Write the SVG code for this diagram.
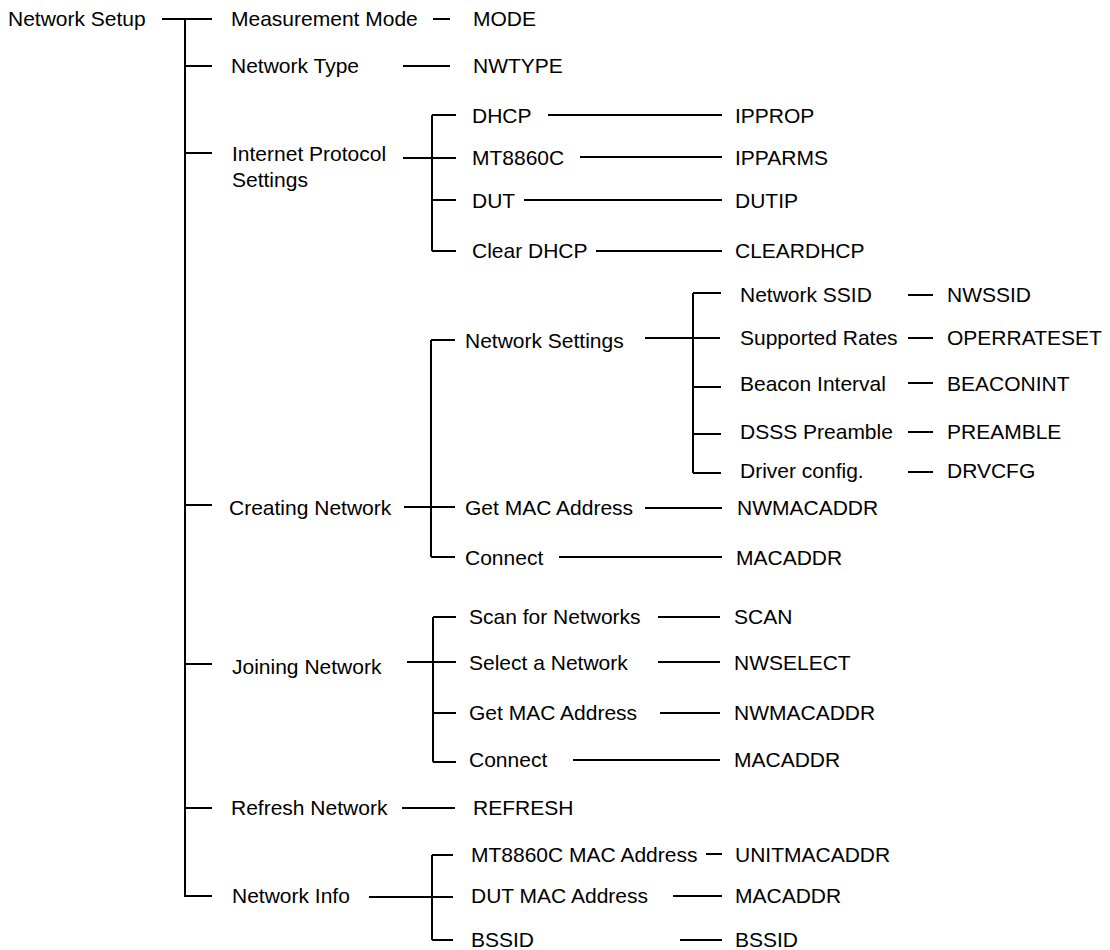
<svg xmlns="http://www.w3.org/2000/svg" width="1110" height="950" viewBox="0 0 1110 950">
<style>
text{font-family:"Liberation Sans",Arial,sans-serif;font-size:21px;fill:#000}
.c path{stroke:#000;stroke-width:2;fill:none}
</style>
<rect width="1110" height="950" fill="#fff"/>
<g class="c" id="connectors">
<path d="M162 19H212M185 19V897M185 66H212M185 153H212M185 505H212M185 664H212M185 808H212M185 896H212"/>
<path d="M433 19H450M403 66H450M402 808H455"/>
<path d="M403 158H456M432 115V251M432 115H456M432 200H456M432 251H456"/>
<path d="M548 115H722M580 157H722M524 200H722M596 251H722"/>
<path d="M404 507H455M431 340V557M431 340H455M431 557H455"/>
<path d="M645 338H720M693 293V473M693 293H721M693 387H721M693 434H721M693 473H721"/>
<path d="M908 295H933M908 338H933M908 383H933M908 432H933M908 472H933"/>
<path d="M645 508H722M559 557H722"/>
<path d="M407 662H456M433 617V762M433 617H456M433 713H456M433 762H456"/>
<path d="M658 617H720M658 662H720M660 713H720M573 760H720"/>
<path d="M369 897H453M432 855V940M432 855H453M432 940H453"/>
<path d="M706 854H722M673 896H722M680 940H722"/>
</g>
<g id="n-root"><text x="8" y="26">Network Setup</text></g>
<g id="n-mode"><text x="231" y="26">Measurement Mode</text></g>
<g id="n-mode-cmd"><text x="473" y="26">MODE</text></g>
<g id="n-nwtype"><text x="231" y="73">Network Type</text></g>
<g id="n-nwtype-cmd"><text x="473" y="73">NWTYPE</text></g>
<g id="n-ip"><text x="232" y="161">Internet Protocol</text><text x="232" y="187">Settings</text></g>
<g id="n-dhcp"><text x="472" y="123">DHCP</text></g>
<g id="n-ipprop"><text x="735" y="123">IPPROP</text></g>
<g id="n-mt"><text x="472" y="165">MT8860C</text></g>
<g id="n-ipparms"><text x="735" y="165">IPPARMS</text></g>
<g id="n-dut"><text x="472" y="208">DUT</text></g>
<g id="n-dutip"><text x="735" y="208">DUTIP</text></g>
<g id="n-cleardhcp"><text x="472" y="258">Clear DHCP</text></g>
<g id="n-cleardhcp-cmd"><text x="735" y="258">CLEARDHCP</text></g>
<g id="n-creating"><text x="229" y="515">Creating Network</text></g>
<g id="n-nwsettings"><text x="465" y="348">Network Settings</text></g>
<g id="n-ssid"><text x="740" y="302">Network SSID</text></g>
<g id="n-nwssid"><text x="947" y="302">NWSSID</text></g>
<g id="n-rates"><text x="740" y="345">Supported Rates</text></g>
<g id="n-operrateset"><text x="947" y="345">OPERRATESET</text></g>
<g id="n-beacon"><text x="740" y="391">Beacon Interval</text></g>
<g id="n-beaconint"><text x="947" y="391">BEACONINT</text></g>
<g id="n-dsss"><text x="740" y="439">DSSS Preamble</text></g>
<g id="n-preamble"><text x="947" y="439">PREAMBLE</text></g>
<g id="n-driver"><text x="740" y="478">Driver config.</text></g>
<g id="n-drvcfg"><text x="947" y="478">DRVCFG</text></g>
<g id="n-cr-getmac"><text x="465" y="515">Get MAC Address</text></g>
<g id="n-cr-nwmacaddr"><text x="737" y="515">NWMACADDR</text></g>
<g id="n-cr-connect"><text x="465" y="565">Connect</text></g>
<g id="n-cr-macaddr"><text x="736" y="565">MACADDR</text></g>
<g id="n-joining"><text x="232" y="674">Joining Network</text></g>
<g id="n-scan"><text x="469" y="624">Scan for Networks</text></g>
<g id="n-scan-cmd"><text x="734" y="624">SCAN</text></g>
<g id="n-select"><text x="469" y="670">Select a Network</text></g>
<g id="n-nwselect"><text x="734" y="670">NWSELECT</text></g>
<g id="n-jn-getmac"><text x="469" y="720">Get MAC Address</text></g>
<g id="n-jn-nwmacaddr"><text x="734" y="720">NWMACADDR</text></g>
<g id="n-jn-connect"><text x="469" y="767">Connect</text></g>
<g id="n-jn-macaddr"><text x="734" y="767">MACADDR</text></g>
<g id="n-refresh"><text x="231" y="815">Refresh Network</text></g>
<g id="n-refresh-cmd"><text x="473" y="815">REFRESH</text></g>
<g id="n-info"><text x="232" y="903">Network Info</text></g>
<g id="n-unitmac"><text x="471" y="862">MT8860C MAC Address</text></g>
<g id="n-unitmacaddr"><text x="735" y="862">UNITMACADDR</text></g>
<g id="n-dutmac"><text x="471" y="903">DUT MAC Address</text></g>
<g id="n-dutmac-cmd"><text x="735" y="903">MACADDR</text></g>
<g id="n-bssid"><text x="471" y="947">BSSID</text></g>
<g id="n-bssid-cmd"><text x="735" y="947">BSSID</text></g>
</svg>
